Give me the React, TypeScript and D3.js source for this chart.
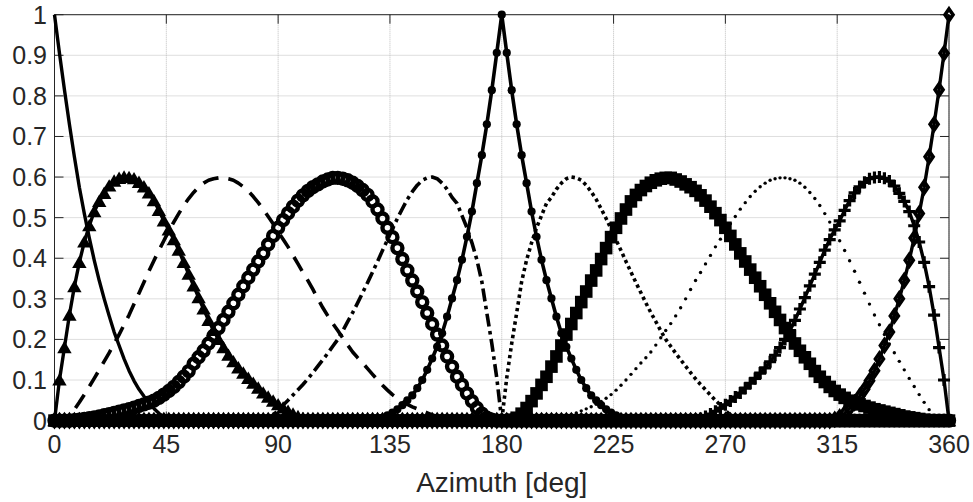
import React from 'react';
import * as d3 from 'd3';

// ---------- data (gains sampled every 2 degrees; outside the listed span the gain is 0) ----------
const AZ_STEP = 2;
const xTicks = [0, 45, 90, 135, 180, 225, 270, 315, 360];
const yTicks = [0, 0.1, 0.2, 0.3, 0.4, 0.5, 0.6, 0.7, 0.8, 0.9, 1];
const yTickLabels = ['0', '0.1', '0.2', '0.3', '0.4', '0.5', '0.6', '0.7', '0.8', '0.9', '1'];
const xLabel = 'Azimuth [deg]';

// solid line, no markers (0..48)
const solidStart = 0;
const solidGain = [1, 0.905, 0.815, 0.73, 0.65, 0.575, 0.51, 0.45, 0.395, 0.345, 0.3, 0.258, 0.218,
  0.185, 0.152, 0.123, 0.098, 0.077, 0.06, 0.044, 0.03, 0.018, 0.009, 0.003, 0];

// triangles (0..104)
const triStart = 0;
const triGain = [0, 0.1, 0.18, 0.26, 0.33, 0.39, 0.44, 0.48, 0.515, 0.54, 0.56, 0.578, 0.59, 0.597,
  0.6, 0.599, 0.596, 0.587, 0.576, 0.561, 0.542, 0.518, 0.492, 0.47, 0.446, 0.42, 0.39, 0.361, 0.332,
  0.303, 0.275, 0.247, 0.222, 0.2, 0.18, 0.161, 0.145, 0.13, 0.117, 0.104, 0.092, 0.08, 0.068, 0.058,
  0.048, 0.039, 0.031, 0.023, 0.016, 0.01, 0.005, 0.002, 0];

// dashed (0..160)
const dashStart = 0;
const dashGain = [0, 0, 0.003, 0.012, 0.027, 0.045, 0.064, 0.084, 0.104, 0.125,
  0.146, 0.167, 0.189, 0.212, 0.236, 0.26, 0.287, 0.314, 0.341, 0.368,
  0.394, 0.419, 0.443, 0.467, 0.489, 0.51, 0.53, 0.547, 0.562, 0.575,
  0.585, 0.592, 0.596, 0.598, 0.598, 0.596, 0.592, 0.585, 0.576, 0.565,
  0.552, 0.537, 0.521, 0.503, 0.485, 0.465, 0.447, 0.428, 0.407, 0.386,
  0.365, 0.345, 0.323, 0.3, 0.278, 0.258, 0.239, 0.222, 0.204, 0.186,
  0.169, 0.155, 0.142, 0.128, 0.114, 0.1, 0.087, 0.075, 0.064, 0.055,
  0.047, 0.04, 0.034, 0.029, 0.024, 0.019, 0.014, 0.01, 0.006, 0.003, 0];

// open circles (0..178)
const circStart = 0;
const circGain = [0, 0, 0, 0, 0.001, 0.002, 0.004, 0.006, 0.008, 0.01,
  0.013, 0.016, 0.019, 0.022, 0.025, 0.028, 0.032, 0.036, 0.04, 0.044,
  0.049, 0.056, 0.064, 0.073, 0.083, 0.095, 0.108, 0.122, 0.14, 0.156,
  0.172, 0.19, 0.209, 0.228, 0.248, 0.268, 0.289, 0.31, 0.331, 0.352,
  0.372, 0.392, 0.412, 0.434, 0.455, 0.475, 0.494, 0.511, 0.527, 0.542,
  0.555, 0.566, 0.575, 0.582, 0.589, 0.594, 0.598, 0.598, 0.596, 0.592,
  0.586, 0.578, 0.568, 0.556, 0.54, 0.52, 0.498, 0.475, 0.452, 0.425,
  0.398, 0.37, 0.345, 0.318, 0.292, 0.265, 0.238, 0.212, 0.185, 0.158,
  0.133, 0.108, 0.088, 0.067, 0.048, 0.031, 0.017, 0.007, 0.002, 0];

// dash-dot (84..180)
const dashDotStart = 84;
const dashDotGain = [0, 0.005, 0.014, 0.025, 0.038, 0.05, 0.063, 0.076, 0.089, 0.103,
  0.118, 0.134, 0.15, 0.166, 0.183, 0.2, 0.221, 0.244, 0.266, 0.29,
  0.315, 0.34, 0.366, 0.392, 0.419, 0.445, 0.472, 0.498, 0.522, 0.545,
  0.564, 0.58, 0.592, 0.598, 0.6, 0.596, 0.585, 0.57, 0.55, 0.535,
  0.505, 0.475, 0.438, 0.396, 0.342, 0.265, 0.19, 0.105, 0];

// filled dots (126..234)
const dotStart = 126;
const dotGain = [0, 0.001, 0.003, 0.007, 0.013, 0.02, 0.028, 0.038, 0.05, 0.062,
  0.08, 0.1, 0.125, 0.153, 0.182, 0.215, 0.256, 0.301, 0.346, 0.396,
  0.453, 0.515, 0.585, 0.654, 0.73, 0.814, 0.906, 1, 0.906, 0.814,
  0.73, 0.654, 0.585, 0.515, 0.453, 0.396, 0.346, 0.301, 0.256, 0.215,
  0.182, 0.153, 0.125, 0.1, 0.08, 0.062, 0.05, 0.038, 0.028, 0.02,
  0.013, 0.007, 0.003, 0.001, 0];

// bold dotted (180..276)
const dottedStart = 180;
const dottedGain = [0, 0.105, 0.19, 0.265, 0.342, 0.396, 0.438, 0.475, 0.505, 0.535,
  0.55, 0.57, 0.585, 0.596, 0.6, 0.598, 0.592, 0.58, 0.564, 0.545,
  0.522, 0.498, 0.472, 0.445, 0.419, 0.392, 0.366, 0.34, 0.315, 0.29,
  0.266, 0.244, 0.221, 0.2, 0.183, 0.166, 0.15, 0.134, 0.118, 0.103,
  0.089, 0.076, 0.063, 0.05, 0.038, 0.025, 0.014, 0.005, 0];

// filled squares (182..360)
const squareStart = 182;
const squareGain = [0, 0.002, 0.007, 0.017, 0.031, 0.048, 0.067, 0.088, 0.108, 0.133,
  0.158, 0.185, 0.212, 0.238, 0.265, 0.292, 0.318, 0.345, 0.37, 0.398,
  0.425, 0.452, 0.475, 0.498, 0.52, 0.54, 0.556, 0.568, 0.578, 0.586,
  0.592, 0.596, 0.598, 0.598, 0.594, 0.589, 0.582, 0.575, 0.566, 0.555,
  0.542, 0.527, 0.511, 0.494, 0.475, 0.455, 0.434, 0.412, 0.392, 0.372,
  0.352, 0.331, 0.31, 0.289, 0.268, 0.248, 0.228, 0.209, 0.19, 0.172,
  0.156, 0.14, 0.122, 0.108, 0.095, 0.083, 0.073, 0.064, 0.056, 0.049,
  0.044, 0.04, 0.036, 0.032, 0.028, 0.025, 0.022, 0.019, 0.016, 0.013,
  0.01, 0.008, 0.006, 0.004, 0.002, 0.001, 0, 0, 0, 0];

// fine dots, markers only (200..360)
const fineStart = 200;
const fineGain = [0, 0.003, 0.006, 0.01, 0.014, 0.019, 0.024, 0.029, 0.034, 0.04,
  0.047, 0.055, 0.064, 0.075, 0.087, 0.1, 0.114, 0.128, 0.142, 0.155,
  0.169, 0.186, 0.204, 0.222, 0.239, 0.258, 0.278, 0.3, 0.323, 0.345,
  0.365, 0.386, 0.407, 0.428, 0.447, 0.465, 0.485, 0.503, 0.521, 0.537,
  0.552, 0.565, 0.576, 0.585, 0.592, 0.596, 0.598, 0.598, 0.596, 0.592,
  0.585, 0.575, 0.562, 0.547, 0.53, 0.51, 0.489, 0.467, 0.443, 0.419,
  0.394, 0.368, 0.341, 0.314, 0.287, 0.26, 0.236, 0.212, 0.189, 0.167,
  0.146, 0.125, 0.104, 0.084, 0.064, 0.045, 0.027, 0.012, 0.003, 0, 0];

// plus markers (256..360)
const plusStart = 256;
const plusGain = [0, 0.002, 0.005, 0.01, 0.016, 0.023, 0.031, 0.039, 0.048, 0.058,
  0.068, 0.08, 0.092, 0.104, 0.117, 0.13, 0.145, 0.161, 0.18, 0.2,
  0.222, 0.247, 0.275, 0.303, 0.332, 0.361, 0.39, 0.42, 0.446, 0.47,
  0.492, 0.518, 0.542, 0.561, 0.576, 0.587, 0.596, 0.599, 0.6, 0.597,
  0.59, 0.578, 0.56, 0.54, 0.515, 0.48, 0.44, 0.39, 0.33, 0.26,
  0.18, 0.1, 0];

// diamonds (312..360)
const diamondStart = 312;
const diamondGain = [0, 0.003, 0.009, 0.018, 0.03, 0.044, 0.06, 0.077, 0.098, 0.123, 0.152,
  0.185, 0.218, 0.258, 0.3, 0.345, 0.395, 0.45, 0.51, 0.575, 0.65, 0.73, 0.815, 0.905, 1];

// ---------- layout ----------
const W = 973;
const H = 502;
const X0 = 54.5, X1 = 949;
const Y0 = 420.6, Y1 = 14.7;
const INK = '#262626';

const angles = d3.range(0, 360 + AZ_STEP / 2, AZ_STEP);
function expand(start: number, vals: number[]) {
  return angles.map((a) => {
    const i = Math.round((a - start) / AZ_STEP);
    return { a, v: i >= 0 && i < vals.length ? vals[i] : 0 };
  });
}

type Marker = 'none' | 'tri' | 'circ' | 'dot' | 'square' | 'plus' | 'diamond' | 'fine';
interface Series { start: number; vals: number[]; line: boolean; dash?: string; lw: number; marker: Marker; }

const series: Series[] = [
  { start: solidStart, vals: solidGain, line: true, lw: 3.4, marker: 'none' },
  { start: triStart, vals: triGain, line: true, lw: 3.4, marker: 'tri' },
  { start: dashStart, vals: dashGain, line: true, dash: '16 10', lw: 3.6, marker: 'none' },
  { start: circStart, vals: circGain, line: false, lw: 3, marker: 'circ' },
  { start: dashDotStart, vals: dashDotGain, line: true, dash: '13 4.5 3.5 4.5', lw: 3.6, marker: 'none' },
  { start: dotStart, vals: dotGain, line: true, lw: 3.6, marker: 'dot' },
  { start: dottedStart, vals: dottedGain, line: true, dash: '3.4 3.4', lw: 3.6, marker: 'none' },
  { start: squareStart, vals: squareGain, line: true, lw: 3, marker: 'square' },
  { start: fineStart, vals: fineGain, line: false, lw: 1, marker: 'fine' },
  { start: plusStart, vals: plusGain, line: true, lw: 3.4, marker: 'plus' },
  { start: diamondStart, vals: diamondGain, line: true, lw: 3.4, marker: 'diamond' },
];

function markerEl(m: Marker, cx: number, cy: number, key: string) {
  switch (m) {
    case 'tri':
      return <path key={key} d={`M${cx},${cy - 6.8}L${cx + 7.2},${cy + 5.6}L${cx - 7.2},${cy + 5.6}Z`} fill="#000" />;
    case 'circ':
      return <circle key={key} cx={cx} cy={cy} r={5} fill="none" stroke="#000" strokeWidth={4.4} />;
    case 'dot':
      return <circle key={key} cx={cx} cy={cy} r={4.1} fill="#000" />;
    case 'square':
      return <rect key={key} x={cx - 6.3} y={cy - 6.3} width={12.6} height={12.6} fill="#000" />;
    case 'plus':
      return <path key={key} d={`M${cx - 6},${cy}H${cx + 6}M${cx},${cy - 6}V${cy + 6}`} stroke="#000" strokeWidth={3.2} fill="none" />;
    case 'diamond':
      return <path key={key} d={`M${cx},${cy - 5.8}L${cx + 4},${cy}L${cx},${cy + 5.8}L${cx - 4},${cy}Z`} fill="none" stroke="#000" strokeWidth={3.6} />;
    case 'fine':
      return <circle key={key} cx={cx} cy={cy} r={1.7} fill="#000" />;
    default:
      return null;
  }
}

export default function App() {
  const x = d3.scaleLinear().domain([0, 360]).range([X0, X1]);
  const y = d3.scaleLinear().domain([0, 1]).range([Y0, Y1]);
  const line = d3.line<{ a: number; v: number }>().x((d) => x(d.a)).y((d) => y(d.v));
  const font = "'Liberation Sans', Arial, Helvetica, sans-serif";

  return (
    <svg width={W} height={H} style={{ position: 'absolute', left: 0, top: 0, background: '#fff' }}>
      <rect x={0} y={0} width={W} height={H} fill="#fff" />
      {/* grid */}
      {xTicks.map((t) => (
        <line key={`gx${t}`} x1={x(t)} x2={x(t)} y1={Y1} y2={Y0} stroke="#bdbdbd" strokeWidth={1} strokeDasharray="1 1" />
      ))}
      {yTicks.map((t) => (
        <line key={`gy${t}`} x1={X0} x2={X1} y1={y(t)} y2={y(t)} stroke="#bdbdbd" strokeWidth={1} strokeDasharray="1 1" />
      ))}
      {/* box + ticks */}
      <rect x={X0} y={Y1} width={X1 - X0} height={Y0 - Y1} fill="none" stroke={INK} strokeWidth={1} />
      {xTicks.map((t) => (
        <g key={`tx${t}`}>
          <line x1={x(t)} x2={x(t)} y1={Y0} y2={Y0 - 9} stroke={INK} />
          <line x1={x(t)} x2={x(t)} y1={Y1} y2={Y1 + 9} stroke={INK} />
        </g>
      ))}
      {yTicks.map((t) => (
        <g key={`ty${t}`}>
          <line x1={X0} x2={X0 + 9} y1={y(t)} y2={y(t)} stroke={INK} />
          <line x1={X1} x2={X1 - 9} y1={y(t)} y2={y(t)} stroke={INK} />
        </g>
      ))}
      {/* series */}
      {series.map((s, si) => {
        const data = expand(s.start, s.vals);
        return (
          <g key={`s${si}`}>
            {s.line && (
              <path d={line(data) || ''} fill="none" stroke="#000" strokeWidth={s.lw}
                strokeDasharray={s.dash} strokeLinejoin="round" />
            )}
            {s.marker !== 'none' && data.map((d, i) => markerEl(s.marker, x(d.a), y(d.v), `m${si}_${i}`))}
          </g>
        );
      })}
      {/* tick labels */}
      {xTicks.map((t) => (
        <text key={`lx${t}`} x={x(t)} y={453} textAnchor="middle" fontFamily={font} fontSize={25} fill={INK}>{t}</text>
      ))}
      {yTicks.map((t, i) => (
        <text key={`ly${t}`} x={47} y={y(t) + 9} textAnchor="end" fontFamily={font} fontSize={25} fill={INK}>{yTickLabels[i]}</text>
      ))}
      <text x={(X0 + X1) / 2} y={491.5} textAnchor="middle" fontFamily={font} fontSize={28} fill={INK}>{xLabel}</text>
    </svg>
  );
}
